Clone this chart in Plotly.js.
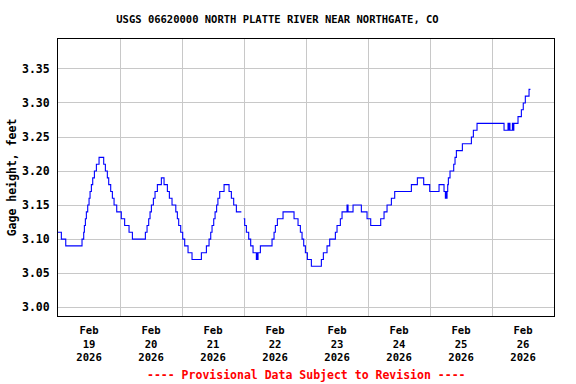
<!DOCTYPE html>
<html>
<head>
<meta charset="utf-8">
<script src="https://cdn.plot.ly/plotly-3.0.1.min.js"></script>
<style>html,body{margin:0;padding:0;background:#fff;}#chart{width:576px;height:384px;}</style>
</head>
<body>
<div id="chart"></div>
<script>
// Hours after 2026-02-19 00:00 at which the gage reading changes, and the reading (ft)
const hoursSinceStart = [
  0, 1.3, 3.0, 9.3, 9.95, 10.21, 10.6, 10.98, 11.5, 12.02, 12.41, 12.92, 13.44, 14.09, 14.86, 15.89,
  17.69, 18.34, 19.1, 19.63, 20.4, 21.05, 21.7, 22.73, 24.5, 25.8, 27.5, 28.8,
  33.82, 34.47, 35.11, 35.63, 36.15, 36.92, 37.56, 38.47, 40.01,
  41.05, 42.34, 43.11, 44.14, 45.6, 46.2, 46.72, 47.5, 48.27, 49.05, 50.34, 51.88,
  55.5, 57.44, 58.47, 59.12, 59.63, 60.28, 60.8, 61.4, 61.9, 62.6, 64.28,
  66.21, 67.11, 68.01, 69.05, 70.98, 71.0,
  71.88, 72.27, 72.92, 73.82, 74.59, 75.5, 76.79, 77.1, 77.2, 77.43, 78.34,
  82.85, 83.63, 84.14, 84.92, 87.11, 91.37, 92.92, 93.82, 94.47, 95.11, 95.76, 96.53, 98.08,
  101.95, 102.72, 104.14, 105.18, 107.37, 108.01, 109.3, 109.95, 111.88, 112.27, 114.21,
  117.43, 119.63, 121.05, 124.92, 126.21, 127.37, 129.05, 130.34, 136.79, 139.11,
  141.56, 143.89, 147.5, 149.43, 149.95, 150.2, 150.35, 150.6, 150.85, 151.11, 151.75,
  153.18, 153.69, 154.21, 156.53, 160.02, 160.79, 162.21,
  172.66, 174.2, 174.45, 174.7, 174.95, 175.9, 176.15, 176.45, 178.07, 179.37, 180.1, 180.9, 182.34, 182.87
];
const gageHeight = [
  3.11, 3.10, 3.09, 3.10, 3.11, 3.12, 3.13, 3.14, 3.15, 3.16, 3.17, 3.18, 3.19, 3.20, 3.21, 3.22,
  3.21, 3.20, 3.19, 3.18, 3.17, 3.16, 3.15, 3.14, 3.13, 3.12, 3.11, 3.10,
  3.11, 3.12, 3.13, 3.14, 3.15, 3.16, 3.17, 3.18, 3.19,
  3.18, 3.17, 3.16, 3.15, 3.14, 3.13, 3.12, 3.11, 3.10, 3.09, 3.08, 3.07,
  3.08, 3.09, 3.10, 3.11, 3.12, 3.13, 3.14, 3.15, 3.16, 3.17, 3.18,
  3.17, 3.16, 3.15, 3.14, 3.14, null,
  3.13, 3.12, 3.11, 3.10, 3.09, 3.08, 3.07, 3.08, 3.07, 3.08, 3.09,
  3.10, 3.11, 3.12, 3.13, 3.14, 3.13, 3.12, 3.11, 3.10, 3.09, 3.08, 3.07, 3.06,
  3.07, 3.08, 3.09, 3.10, 3.11, 3.12, 3.13, 3.14, 3.15, 3.14, 3.15,
  3.14, 3.13, 3.12, 3.13, 3.14, 3.15, 3.16, 3.17, 3.18, 3.19,
  3.18, 3.17, 3.18, 3.17, 3.16, 3.17, 3.16, 3.17, 3.18, 3.19, 3.20,
  3.21, 3.22, 3.23, 3.24, 3.25, 3.26, 3.27,
  3.26, 3.27, 3.26, 3.27, 3.26, 3.27, 3.26, 3.27, 3.28, 3.29, 3.30, 3.31, 3.32, 3.32
];
const dayTickDates = ['2026-02-19 12:00','2026-02-20 12:00','2026-02-21 12:00','2026-02-22 12:00',
                      '2026-02-23 12:00','2026-02-24 12:00','2026-02-25 12:00','2026-02-26 12:00'];
const dayTickLabels = ['Feb<br>19<br>2026','Feb<br>20<br>2026','Feb<br>21<br>2026','Feb<br>22<br>2026',
                       'Feb<br>23<br>2026','Feb<br>24<br>2026','Feb<br>25<br>2026','Feb<br>26<br>2026'];
const midnightGrid = ['2026-02-20','2026-02-21','2026-02-22','2026-02-23','2026-02-24','2026-02-25','2026-02-26'];
const yTickVals = [3.00, 3.05, 3.10, 3.15, 3.20, 3.25, 3.30, 3.35];

const startMs = Date.UTC(2026, 1, 19, 0, 0, 0);
function toDateStr(h) {
  return new Date(startMs + h * 3600000).toISOString().replace('T', ' ').replace('Z', '');
}
const xDates = hoursSinceStart.map(toDateStr);

const mono = 'DejaVu Sans Mono, Liberation Mono, monospace';

const trace = {
  x: xDates, y: gageHeight, type: 'scatter', mode: 'lines',
  line: {color: '#0000ff', width: 1.1, shape: 'hv'},
  connectgaps: false, hoverinfo: 'skip'
};

const layout = {
  width: 576, height: 384,
  margin: {l: 58, r: 22, t: 39, b: 68},
  paper_bgcolor: '#ffffff', plot_bgcolor: '#ffffff',
  showlegend: false,
  title: {
    text: 'USGS 06620000 NORTH PLATTE RIVER NEAR NORTHGATE, CO',
    font: {family: mono, size: 10.5, color: '#000', weight: 'bold'},
    x: (277.5 - 58) / 496, xref: 'paper', xanchor: 'center',
    y: 1 - 19 / 384, yref: 'container', yanchor: 'middle'
  },
  xaxis: {
    type: 'date',
    range: ['2026-02-19 00:00', '2026-02-27 00:00'],
    tickmode: 'array', tickvals: dayTickDates, ticktext: dayTickLabels,
    tickfont: {family: mono, size: 10.6, color: '#000', weight: 'bold'},
    ticks: 'outside', ticklen: 4, tickcolor: 'rgba(0,0,0,0)',
    showgrid: false, zeroline: false,
    minor: {tickmode: 'array', tickvals: midnightGrid, showgrid: true, gridcolor: '#c8c8c8', gridwidth: 1, ticks: ''},
    showline: true, linecolor: '#000', linewidth: 1, mirror: true,
    fixedrange: true
  },
  yaxis: {
    range: [2.987, 3.394],
    tickmode: 'array', tickvals: yTickVals, tickformat: '.2f',
    tickfont: {family: mono, size: 11.5, color: '#000', weight: 'bold'},
    ticks: 'outside', ticklen: 5, tickcolor: 'rgba(0,0,0,0)',
    showgrid: true, gridcolor: '#c8c8c8', gridwidth: 1, zeroline: false,
    showline: true, linecolor: '#000', linewidth: 1, mirror: true,
    title: {text: 'Gage height, feet', font: {family: mono, size: 11.5, color: '#000', weight: 'bold'}, standoff: 2},
    fixedrange: true
  },
  annotations: [{
    text: '---- Provisional Data Subject to Revision ----',
    xref: 'paper', yref: 'paper', x: 0.5, y: (316 - 375) / 277,
    xanchor: 'center', yanchor: 'middle', showarrow: false,
    font: {family: mono, size: 11.5, color: '#ff0000', weight: 'bold'}
  }]
};

Plotly.newPlot('chart', [trace], layout, {staticPlot: true, displayModeBar: false});
</script>
</body>
</html>
